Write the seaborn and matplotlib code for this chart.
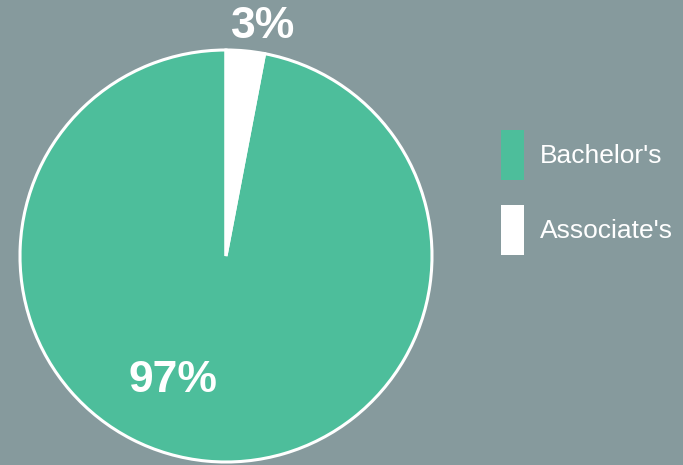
import matplotlib
matplotlib.use("Agg")
import matplotlib.pyplot as plt
import matplotlib.patches as mpatches
import seaborn as sns

# Degree mix
categories = ["Bachelor's", "Associate's"]
shares = [97, 3]
pct_labels = ["97%", "3%"]

BG = "#869a9d"
palette = sns.color_palette(["#4dbe9b", "#ffffff"])

sns.set_theme(style="white", rc={"figure.facecolor": BG, "axes.facecolor": BG})
plt.rcParams["font.family"] = ["Liberation Sans", "DejaVu Sans"]

W, H = 683, 465
fig = plt.figure(figsize=(W / 100, H / 100), dpi=100)
fig.patch.set_facecolor(BG)

# pie centre and radius in pixels
cx, cy, r = 226, 256, 206
ax = fig.add_axes([(cx - r) / W, (H - cy - r) / H, 2 * r / W, 2 * r / H])
ax.set_facecolor(BG)
ax.axis("off")

wedges, _ = ax.pie(
    shares,
    colors=palette,
    startangle=90,
    counterclock=True,
    radius=1.0,
    wedgeprops=dict(edgecolor="white", linewidth=2.2),
)
for w in wedges:
    w.set_clip_on(False)
ax.set_xlim(-1, 1)
ax.set_ylim(-1, 1)
ax.set_aspect("equal")

# percentage labels
label_pos = [(-0.26, -0.605), (0.18, 1.115)]
for txt, (x, y) in zip(pct_labels, label_pos):
    ax.text(x, y, txt, color="white", fontsize=32, fontweight="bold",
            ha="center", va="center", clip_on=False)

handles = [mpatches.Patch(facecolor=c, edgecolor="none") for c in palette]
leg = fig.legend(
    handles, categories,
    loc="upper left", bbox_to_anchor=(501 / W, 1 - 130 / H),
    frameon=False, fontsize=19, labelcolor="white",
    handlelength=0.873, handleheight=2.54, handletextpad=0.61,
    labelspacing=0.95, borderpad=0, borderaxespad=0,
)

fig.savefig("out.png", dpi=100, facecolor=BG)
